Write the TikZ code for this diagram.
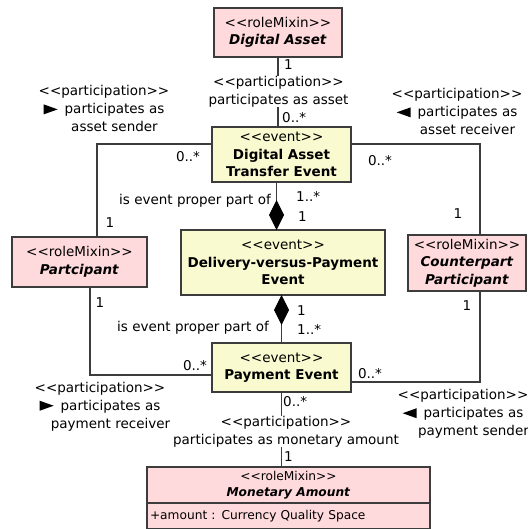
\documentclass[tikz,border=0pt]{standalone}
\usepackage{fontspec}
\setmainfont{DejaVu Sans}[Ligatures=TeXOff]
\usetikzlibrary{positioning,arrows.meta}

\definecolor{rolepink}{RGB}{255,218,220}
\definecolor{eventyellow}{RGB}{250,250,208}
\definecolor{linegray}{RGB}{60,60,60}

\newcommand{\rtri}{\tikz[baseline=0pt]\fill (0pt,-0.5pt) -- (14pt,4.5pt) -- (0pt,9.5pt) -- cycle;\hspace{7pt}}
\newcommand{\ltri}{\tikz[baseline=0pt]\fill (14pt,-0.5pt) -- (0pt,4.5pt) -- (14pt,9.5pt) -- cycle;\hspace{7pt}}

\begin{document}
\begin{tikzpicture}[x=1pt, y=-1pt, font=\fontsize{13.5}{17.5}\selectfont,
    role/.style={rectangle, draw=linegray, fill=rolepink, line width=1.2pt, inner sep=2pt, outer sep=0pt, align=center},
    event/.style={role, fill=eventyellow},
    assoc/.style={draw=linegray, line width=1.1pt},
    part/.style={assoc, -{Diamond[length=30pt, width=15pt, color=black]}},
    lbl/.style={inner sep=0pt, align=center, font=\fontsize{13.5}{18}\selectfont},
    mult/.style={inner sep=0pt}]
        \useasboundingbox (0,0) rectangle (527,529);

        % Classes
        \node[role, minimum width=128pt, minimum height=49pt] (digital_asset) at (278,32.5) {<<roleMixin>>\\\textbf{\textit{Digital Asset}}};
        \node[event, minimum width=139pt, minimum height=55pt] (transfer_event) at (281.5,154.5) {<<event>>\\\textbf{Digital Asset}\\\textbf{Transfer Event}};
        \node[event, minimum width=204pt, minimum height=65pt] (dvp_event) at (283,262.5) {<<event>>\\\textbf{Delivery-versus-Payment}\\\textbf{Event}};
        \node[role, minimum width=135pt, minimum height=50pt] (participant) at (79.5,262) {<<roleMixin>>\\\textbf{\textit{Partcipant}}};
        \node[role, minimum width=118pt, minimum height=56pt] (counterpart) at (467,263) {<<roleMixin>>\\\textbf{\textit{Counterpart}}\\\textbf{\textit{Participant}}};
        \node[event, minimum width=139pt, minimum height=49pt] (payment_event) at (281.5,367.5) {<<event>>\\\textbf{Payment Event}};
        \node[role, minimum width=283pt, minimum height=36pt, font=\fontsize{12.2}{16}\selectfont] (monetary_amount) at (288.5,485) {<<roleMixin>>\\\textbf{\textit{Monetary Amount}}};
        \node[role, minimum width=283pt, minimum height=26pt, inner xsep=3pt, text width=277pt, align=left, font=\fontsize{12.2}{16}\selectfont, below=0pt of monetary_amount] (amount_attr) {+amount : Currency Quality Space};

        % Associations
        \draw[assoc] (digital_asset.south) -- (digital_asset.south |- transfer_event.north);
        \draw[assoc] (payment_event.south) -- (payment_event.south |- monetary_amount.north);
        \draw[assoc] ([yshift=10.5pt]transfer_event.west) -| ([xshift=17.5pt]participant.north);
        \draw[assoc] ([yshift=10.5pt]transfer_event.east) -| ([xshift=13pt]counterpart.north);
        \draw[assoc] ([xshift=10.5pt]participant.south) |- ([yshift=-7.5pt]payment_event.west);
        \draw[assoc] ([xshift=13pt]counterpart.south) |- ([yshift=-14.5pt]payment_event.east);

        % Part-of (composition)
        \draw[part] ([xshift=-5pt]transfer_event.south) -- ([xshift=-5pt]transfer_event.south |- dvp_event.north);
        \draw[part] (payment_event.north) -- (payment_event.north |- dvp_event.south);

        % Association names
        \node[lbl, fill=white] (asset_lbl) at (278.5,91.5) {<<participation>>\\participates as asset};
        \node[lbl, fill=white] (amount_lbl) at (286,431.5) {<<participation>>\\participates as monetary amount};
        \node[lbl] (sender_lbl) at (104,109) {<<participation>>\\\rtri participates as\\\phantom{\rtri}asset sender};
        \node[lbl] (receiver_lbl) at (457,112) {<<participation>>\\\ltri participates as\\\phantom{\ltri}asset receiver};
        \node[lbl] (pay_receiver_lbl) at (100,406.5) {<<participation>>\\\rtri participates as\\\phantom{\rtri}payment receiver};
        \node[lbl] (pay_sender_lbl) at (463,414) {<<participation>>\\\ltri participates as\\\phantom{\ltri}payment sender};
        \node[mult, anchor=east] (part_of_top) at (271,201) {is event proper part of};
        \node[mult, anchor=east] (part_of_bottom) at (269,328) {is event proper part of};

        % Multiplicities
        \node[mult, anchor=west] (mult_asset) at (284,65) {1};
        \node[mult, anchor=west] (mult_asset_event) at (282,118) {0..*};
        \node[mult] (mult_sender_event) at (188,157) {0..*};
        \node[mult] (mult_receiver_event) at (380,161) {0..*};
        \node[mult] (mult_sender) at (110,223) {1};
        \node[mult] (mult_receiver) at (458,214) {1};
        \node[mult, anchor=west] (mult_transfer) at (296,196) {1..*};
        \node[mult, anchor=west] (mult_dvp_top) at (298,217) {1};
        \node[mult, anchor=west] (mult_dvp_bottom) at (297,311) {1};
        \node[mult, anchor=west] (mult_payment) at (297,329) {1..*};
        \node[mult] (mult_pay_receiver) at (100,303) {1};
        \node[mult] (mult_pay_receiver_event) at (195,366) {0..*};
        \node[mult] (mult_pay_sender) at (467,306) {1};
        \node[mult] (mult_pay_sender_event) at (370,374) {0..*};
        \node[mult, anchor=west] (mult_amount_event) at (283,402) {0..*};
        \node[mult, anchor=west] (mult_amount) at (284,457) {1};
    \end{tikzpicture}
\end{document}
